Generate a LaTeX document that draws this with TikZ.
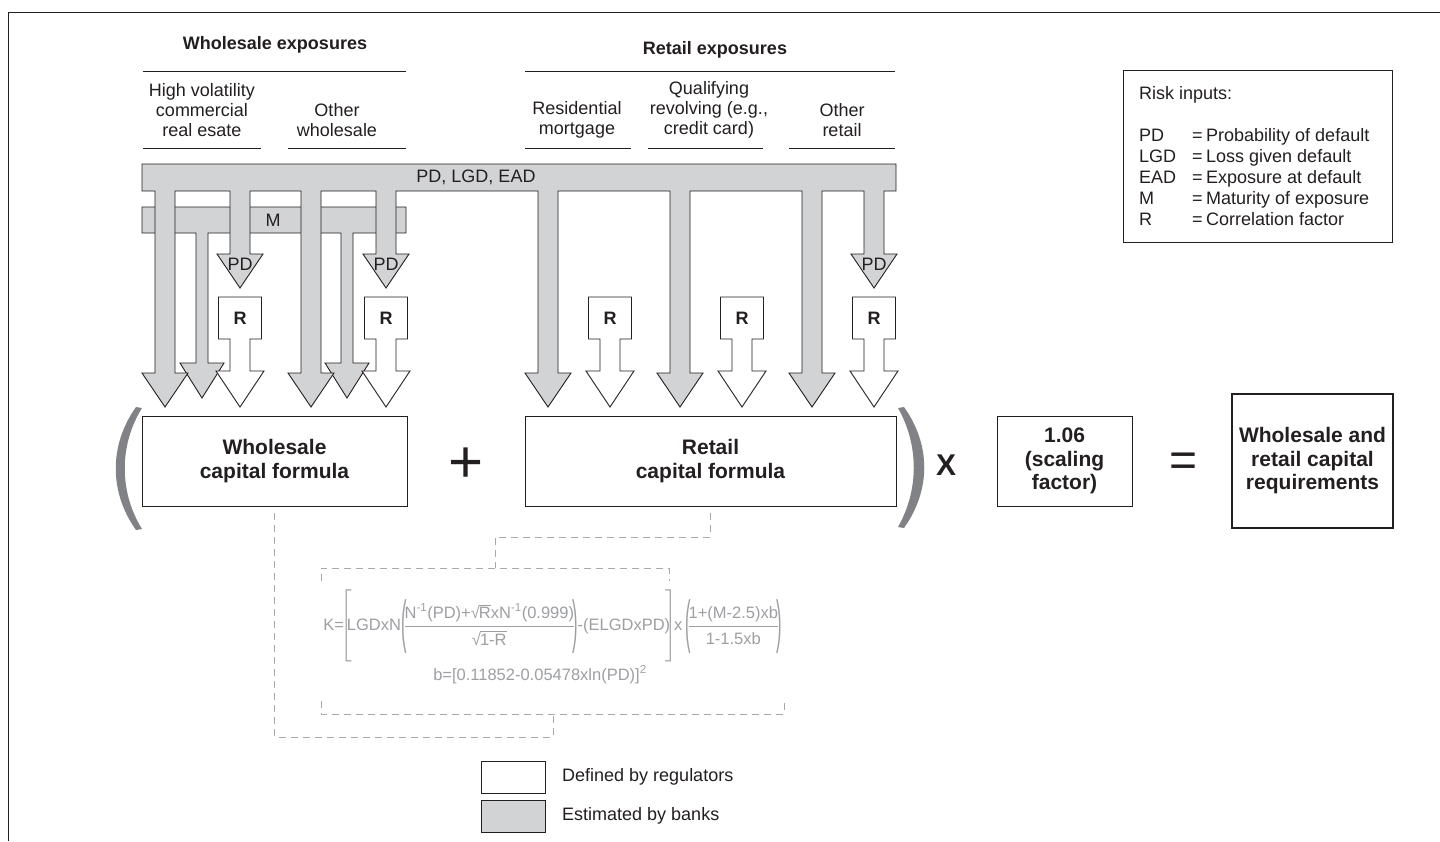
\documentclass[tikz,border=0pt]{standalone}
\usepackage{fontspec}
\setmainfont{Liberation Sans}
\usepackage{amsmath}
\usepackage{graphicx}
\definecolor{ink}{HTML}{231F20}
\definecolor{arrowfill}{HTML}{D1D3D4}
\definecolor{parcol}{HTML}{808285}
\definecolor{dashcol}{HTML}{A7A9AC}
\definecolor{fcol}{HTML}{9D9FA2}
\newcommand\bigop[1]{\raisebox{-10.8pt}{\scalebox{1}[3.5]{#1}}}
\tikzset{
 dnarrow/.style n args={6}{insert path={ -- ({#1+#3},#2) -- ({#1+#3},#4) -- ({#1+#5},#4) -- (#1,#6) -- ({#1-#5},#4) -- ({#1-#3},#4) -- ({#1-#3},#2)}},
 grayshape/.style={draw=ink, fill=arrowfill, line width=0.9pt},
 whiteshape/.style={draw=ink, fill=white, line width=0.9pt},
 txt/.style={font=\fontsize{18}{20}\selectfont, text=ink, align=center, inner sep=0pt},
 hdr/.style={font=\bfseries\fontsize{18}{20}\selectfont, text=ink, inner sep=0pt},
 rlabel/.style={font=\bfseries\fontsize{18}{20}\selectfont, text=ink, inner sep=0pt},
 hline/.style={draw=ink, line width=0.9pt},
 formbox/.style={draw=ink, line width=0.9pt, fill=white, font=\bfseries\fontsize{21}{23.5}\selectfont, text=ink, align=center, inner sep=0pt},
 dashline/.style={draw=dashcol, line width=0.9pt, dash pattern=on 7pt off 5pt},
 ftext/.style={text=fcol, font=\fontsize{16.5}{19}\selectfont, inner sep=0pt},
 opsym/.style={text=ink, inner sep=0pt},
}
\begin{document}
\begin{tikzpicture}[x=1pt,y=-1pt]
\useasboundingbox (0,0) rectangle (1440,841);
\fill[white] (0,0) rectangle (1440,841);
% frame
\draw[ink, line width=0.9pt] (8,841) -- (8,12) -- (1440,12);

% headers
\node[hdr] (wh) at (275,45) {Wholesale exposures};
\draw[hline] (143,71) -- (406,71);
\node[txt] (hv) at (202,110) {High volatility\\commercial\\real esate};
\node[txt] (ow) at (337,120) {Other\\wholesale};
\draw[hline] (143,148) -- (261,148);
\draw[hline] (288,148) -- (406,148);
\node[hdr] (rh) at (715,50) {Retail exposures};
\draw[hline] (525,71) -- (895,71);
\node[txt] (rm) at (577,120) {Residential\\mortgage};
\node[txt] (qr) at (709,110) {Qualifying\\revolving (e.g.,\\credit card)};
\node[txt] (or) at (842,120) {Other\\retail};
\draw[hline] (525,148) -- (631,148);
\draw[hline] (648,148) -- (763,148);
\draw[hline] (789,148) -- (895,148);

% M bar with arrows
\draw[grayshape] (142,207) -- (406,207) -- (406,233)
  [dnarrow={347}{233}{6}{363}{22}{398}]
  [dnarrow={202}{233}{6}{363}{22}{398}]
  -- (142,233) -- cycle;
% PD, LGD, EAD bar with arrows
\draw[grayshape] (142,164) -- (896,164) -- (896,191)
  [dnarrow={874}{191}{10}{254}{23}{288}]
  [dnarrow={812}{191}{10}{373}{23}{407}]
  [dnarrow={680}{191}{10}{373}{23}{407}]
  [dnarrow={548}{191}{10}{373}{23}{407}]
  [dnarrow={386}{191}{10}{254}{23}{288}]
  [dnarrow={311}{191}{10}{373}{23}{407}]
  [dnarrow={240}{191}{10}{254}{23}{288}]
  [dnarrow={165}{191}{10}{373}{23}{407}]
  -- (142,191) -- cycle;
\node[txt] (pdlgd) at (476,177) {PD, LGD, EAD};
\node[txt] (mlab) at (273,220) {M};
\node[txt] (pd1) at (240,264) {PD};
\node[txt] (pd2) at (386,264) {PD};
\node[txt] (pd3) at (874,264) {PD};

% R arrows
\foreach \cx/\nm in {240/r1,386/r2,610/r3,742/r4,874/r5} {
  \draw[whiteshape] ({\cx-21.5},297) -- ({\cx+21.5},297) -- ({\cx+21.5},339)
     [dnarrow={\cx}{339}{10}{371}{24}{407}] -- ({\cx-21.5},339) -- cycle;
  \node[rlabel] (\nm) at (\cx,318) {R};
}

% formula boxes
\node[formbox, minimum width=265pt, minimum height=90pt] (wbox) at (274.5,461) {Wholesale\\capital formula};
\node[formbox, minimum width=371pt, minimum height=90pt] (rbox) at (710.5,461) {Retail\\capital formula};
\node[formbox, minimum width=135pt, minimum height=90pt] (sbox) at (1064.5,461) {1.06\\(scaling\\factor)};
\node[formbox, line width=1.8pt, minimum width=161pt, minimum height=134pt] (tbox) at (1312.5,461) {Wholesale and\\retail capital\\requirements};

% parentheses
\fill[parcol] (136,407) .. controls (109,445) and (109,492) .. (136,530) -- (142,529) .. controls (119,492) and (119,445) .. (142,408) -- cycle;
\fill[parcol] (904,407) .. controls (931,445) and (931,490) .. (904,528) -- (898,527) .. controls (919,490) and (919,445) .. (898,408) -- cycle;

% operators
\node[opsym, font=\fontsize{60}{60}\selectfont] (plus) at (466,465) {+};
\node[opsym, font=\bfseries\fontsize{30}{30}\selectfont] (times) at (946,465) {X};
\node[opsym, font=\fontsize{48}{48}\selectfont] (eq) at (1184,465) {=};

% formula
\node[ftext] (formula) at (552.5,626) {$\nulldelimiterspace=0pt \text{K=}\mkern-4mu{\left[\vrule height 39.6pt depth 31.4pt width 0pt\mkern-5mu\text{LGDxN}\bigop{(}\mkern-2mu\dfrac{\text{N}^{\text{-1}}\text{(PD)+√}\mkern-1mu\overline{\text{R}}\text{xN}^{\text{-1}}\text{(0.999)}\rule[-4pt]{0pt}{4pt}}{\rule{0pt}{17pt}\text{√}\mkern-1mu\overline{\text{1-R}}}\mkern-2mu\bigop{)}\text{-(ELGDxPD)}\mkern-5mu\right]}\mkern-3mu\text{x\,}\bigop{(}\mkern-2mu\dfrac{\text{1+(M-2.5)xb}\rule[-4pt]{0pt}{4pt}}{\rule{0pt}{16pt}\text{1-1.5xb}}\mkern-2mu\bigop{)}$};
\node[ftext] (bform) at (540,675) {$\text{b=[0.11852-0.05478xln(PD)]}^{\text{2}}$};
\draw[dashline] (321,581) -- (321,568) -- (669,568) -- (669,581);
\draw[dashline] (321,701) -- (321,714) -- (784,714) -- (784,701);

% dashed connectors
\coordinate (ft) at (495,568);
\coordinate (upturn) at (495,537);
\draw[dashline] ([yshift=-7pt]rbox.south) |- (upturn) -- (ft);
\coordinate (fb) at (553,714);
\coordinate (lowturn) at (553,737);
\draw[dashline] ([yshift=-7pt]wbox.south) |- (lowturn) -- (fb);

% risk inputs
\node[draw=ink, line width=0.9pt, minimum width=269pt, minimum height=172pt, inner sep=0pt] (riskbox) at (1257.5,156) {};
\node[anchor=north west, inner sep=0pt, font=\fontsize{18}{21}\selectfont, text=ink] (risktext) at (1139,85) {\begin{tabular}{@{}p{53pt}@{}p{14pt}@{}l@{}}\multicolumn{3}{@{}l@{}}{Risk inputs:}\\ \\ PD & = & Probability of default\\ LGD & = & Loss given default\\ EAD & = & Exposure at default\\ M & = & Maturity of exposure\\ R & = & Correlation factor\end{tabular}};

% legend
\node[draw=ink, fill=white, line width=0.9pt, minimum width=64pt, minimum height=32pt, inner sep=0pt] (legw) at (513,777) {};
\node[draw=ink, fill=arrowfill, line width=0.9pt, minimum width=64pt, minimum height=32pt, inner sep=0pt] (legg) at (513,816) {};
\node[txt, anchor=west] (legwt) at (562,777) {Defined by regulators};
\node[txt, anchor=west] (leggt) at (562,816) {Estimated by banks};
\end{tikzpicture}
\end{document}
